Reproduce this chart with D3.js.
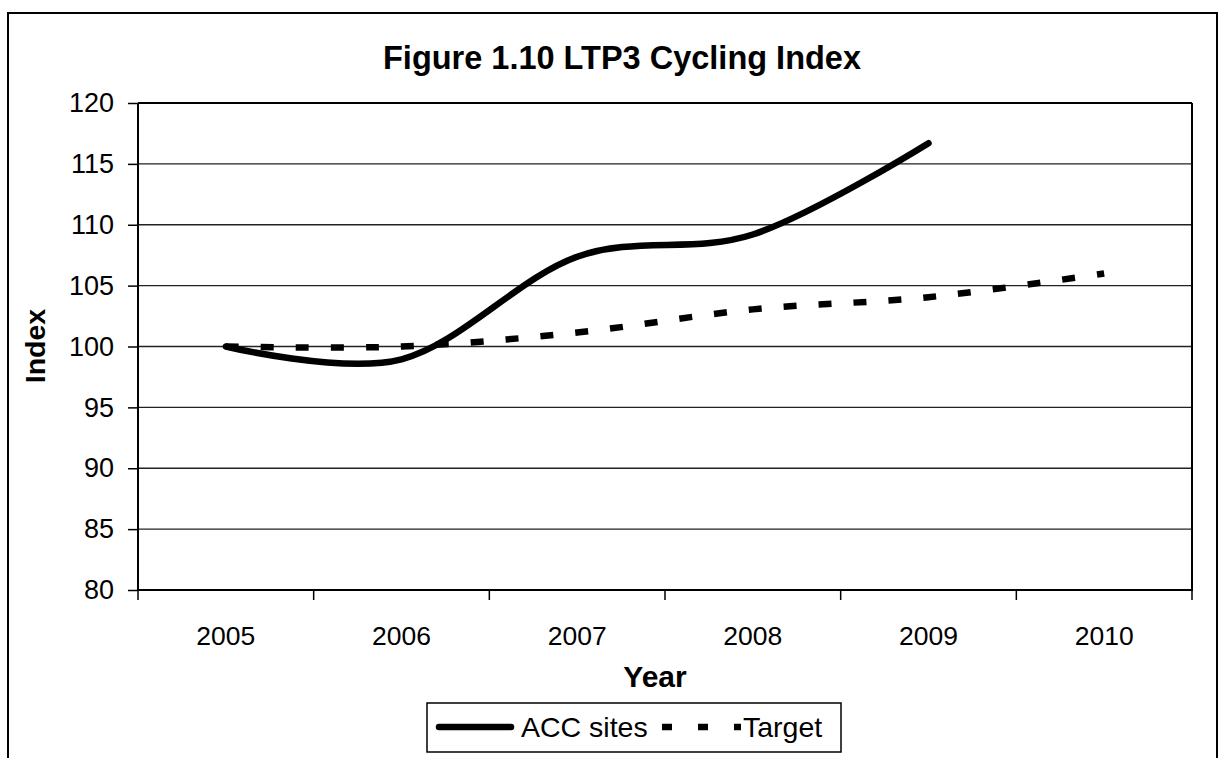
<!DOCTYPE html>
<html>
<head>
<meta charset="utf-8">
<script src="https://cdn.jsdelivr.net/npm/d3@7"></script>
<style>
  html, body { margin: 0; padding: 0; background: #fff; }
  svg { display: block; }
  text { font-family: "Liberation Sans", Arial, sans-serif; fill: #000; }
</style>
</head>
<body>
<svg id="chart" width="1223" height="758"></svg>
<script>
const years = ["2005", "2006", "2007", "2008", "2009", "2010"];
const accSites = [100, 98.95, 107.37, 109.2, 116.7, null];
const target = [100, 100, 101.15, 103.05, 104.05, 106.0];
const yTicks = [80, 85, 90, 95, 100, 105, 110, 115, 120];
const seriesNames = ["ACC sites", "Target"];

const svg = d3.select("#chart");
const W = 1223, H = 758;
const plot = { left: 138, right: 1192, top: 103, bottom: 590 };

svg.append("rect").attr("x", 0).attr("y", 0).attr("width", W).attr("height", H).attr("fill", "#fff");
// outer chart frame (bottom runs off the picture)
svg.append("rect")
  .attr("x", 8).attr("y", 13).attr("width", 1209).attr("height", 800)
  .attr("fill", "none").attr("stroke", "#000").attr("stroke-width", 2);

const x = d3.scaleBand().domain(years).range([plot.left, plot.right]).padding(0);
const y = d3.scaleLinear().domain([80, 120]).range([plot.bottom, plot.top]);
const cx = d => x(d) + x.bandwidth() / 2;

// gridlines
svg.append("g").selectAll("line").data(yTicks.filter(t => t !== 80)).join("line")
  .attr("x1", plot.left).attr("x2", plot.right)
  .attr("y1", d => y(d)).attr("y2", d => y(d))
  .attr("stroke", d => d === 120 ? "#000" : "#222")
  .attr("stroke-width", d => d === 120 ? 2 : 1.3);
// right border
svg.append("line").attr("x1", plot.right).attr("x2", plot.right)
  .attr("y1", plot.top).attr("y2", plot.bottom).attr("stroke", "#000").attr("stroke-width", 2);

// y axis
const yAxis = d3.axisLeft(y).tickValues(yTicks).tickSize(10).tickPadding(14).tickFormat(d3.format("d"));
const gy = svg.append("g").attr("transform", `translate(${plot.left},0)`).call(yAxis);
gy.select(".domain").attr("stroke", "#000").attr("stroke-width", 2).attr("d", `M0,${plot.top}V${plot.bottom + 1}`);
gy.selectAll(".tick line").attr("stroke", "#000").attr("stroke-width", 1.5);
gy.selectAll(".tick text").attr("font-size", 27).attr("font-family", "Liberation Sans, Arial, sans-serif");

// x axis
const xAxis = d3.axisBottom(x).tickSize(0).tickPadding(36);
const gx = svg.append("g").attr("transform", `translate(0,${plot.bottom})`).call(xAxis);
gx.select(".domain").attr("stroke", "#000").attr("stroke-width", 2).attr("d", `M${plot.left - 1},0H${plot.right + 1}`);
gx.selectAll(".tick text").attr("font-size", 26.5).attr("font-family", "Liberation Sans, Arial, sans-serif");
// tick marks at category boundaries
const bounds = years.map(d => x(d)).concat([plot.right]);
gx.append("g").selectAll("line").data(bounds).join("line")
  .attr("x1", d => d).attr("x2", d => d).attr("y1", 0).attr("y2", 10)
  .attr("stroke", "#000").attr("stroke-width", 1.5);

// lines
const curve = d3.curveCatmullRom.alpha(0);
const line = d3.line().defined(d => d[1] != null).x(d => cx(d[0])).y(d => y(d[1])).curve(curve);

svg.append("path").datum(years.map((yr, i) => [yr, target[i]]))
  .attr("d", line).attr("fill", "none").attr("stroke", "#000")
  .attr("stroke-width", 6.5).attr("stroke-dasharray", "13,22").attr("stroke-linecap", "butt");

svg.append("path").datum(years.map((yr, i) => [yr, accSites[i]]).filter(d => d[1] != null))
  .attr("d", line).attr("fill", "none").attr("stroke", "#000")
  .attr("stroke-width", 6.5).attr("stroke-linecap", "round").attr("stroke-linejoin", "round");

// titles
svg.append("text").attr("x", 622).attr("y", 69).attr("text-anchor", "middle")
  .attr("font-size", 32.5).attr("font-weight", "bold").text("Figure 1.10 LTP3 Cycling Index");
svg.append("text").attr("x", 655).attr("y", 687).attr("text-anchor", "middle")
  .attr("font-size", 30).attr("font-weight", "bold").text("Year");
svg.append("text").attr("transform", "translate(45,346) rotate(-90)").attr("text-anchor", "middle")
  .attr("font-size", 28.5).attr("font-weight", "bold").text("Index");

// legend
const lg = svg.append("g");
lg.append("rect").attr("x", 427).attr("y", 703).attr("width", 414).attr("height", 49)
  .attr("fill", "#fff").attr("stroke", "#000").attr("stroke-width", 1.5);
lg.append("line").attr("x1", 439).attr("x2", 511).attr("y1", 727).attr("y2", 727)
  .attr("stroke", "#000").attr("stroke-width", 6.5).attr("stroke-linecap", "round");
lg.append("text").attr("x", 521).attr("y", 737).attr("font-size", 28.5).text(seriesNames[0]);
lg.append("line").attr("x1", 662).attr("x2", 741).attr("y1", 727).attr("y2", 727)
  .attr("stroke", "#000").attr("stroke-width", 6.5).attr("stroke-dasharray", "10,26");
lg.append("text").attr("x", 743).attr("y", 737).attr("font-size", 28.5).text(seriesNames[1]);
</script>
</body>
</html>
